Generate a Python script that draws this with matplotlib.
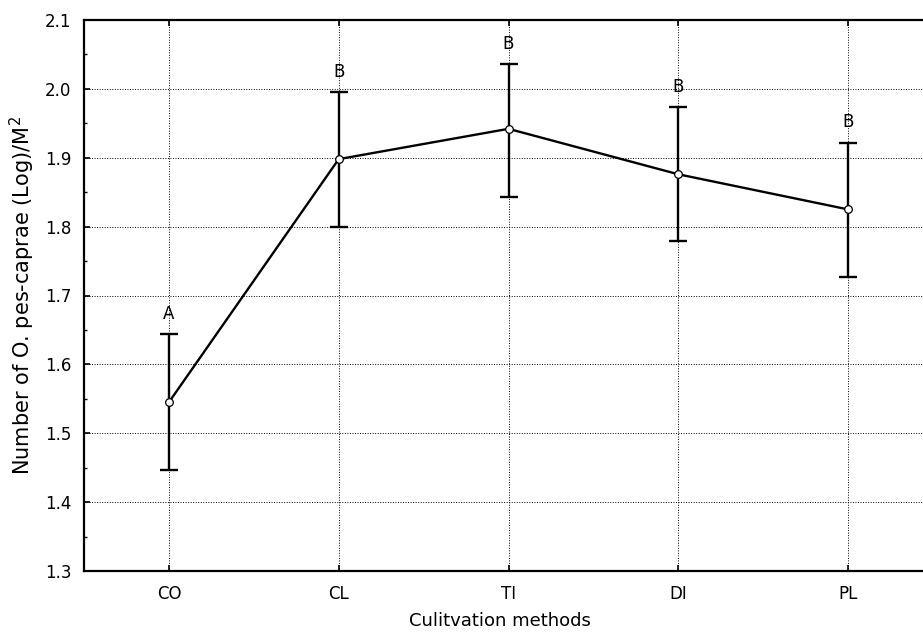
import matplotlib
matplotlib.use("Agg")
import matplotlib.pyplot as plt
from matplotlib.ticker import MultipleLocator, FormatStrFormatter

plt.rcParams["font.family"] = ["DejaVu Sans"]

methods = ["CO", "CL", "TI", "DI", "PL"]
means = [1.545, 1.898, 1.942, 1.876, 1.825]
upper = [1.644, 1.996, 2.036, 1.973, 1.922]
lower = [1.447, 1.800, 1.843, 1.779, 1.727]
letters = ["A", "B", "B", "B", "B"]

x = list(range(len(methods)))
err = [[m - lo for m, lo in zip(means, lower)], [up - m for m, up in zip(means, upper)]]

W, H = 923, 642
fig = plt.figure(figsize=(W / 100, H / 100), dpi=100)
# right spine falls just outside the picture, as in the reference
ax = fig.add_axes([84 / W, 1 - 571 / H, (933 - 84) / W, (571 - 20) / H])

ax.errorbar(x, means, yerr=err, fmt="none", ecolor="black", elinewidth=1.7,
            capsize=6.8, capthick=1.7, zorder=3)
ax.plot(x, means, color="black", lw=1.7, marker="o", ms=5.5, mfc="white",
        mec="black", mew=0.9, zorder=4)

for xi, up, lab in zip(x, upper, letters):
    ax.annotate(lab, (xi, up), xytext=(0, 8), textcoords="offset points",
                ha="center", va="bottom", fontsize=12)

ax.set_xlim(-0.5, 4.5)
ax.set_ylim(1.3, 2.1)
ax.set_xticks(x)
ax.set_xticklabels(methods)
ax.yaxis.set_major_locator(MultipleLocator(0.1))
ax.yaxis.set_minor_locator(MultipleLocator(0.05))
ax.yaxis.set_major_formatter(FormatStrFormatter("%.1f"))
ax.tick_params(axis="both", direction="in", labelsize=12, width=1.2)
ax.tick_params(axis="x", top=True, length=4, pad=10)
ax.tick_params(axis="y", which="major", length=4, pad=9)
ax.tick_params(axis="y", which="minor", direction="in", length=2.5, width=1)
ax.grid(True, which="major", color="black", ls=(0, (1, 1.6)), lw=0.7)

for s in ax.spines.values():
    s.set_linewidth(1.6)

ax.set_xlabel("Culitvation methods", fontsize=13)
ax.xaxis.set_label_coords(0.49, -0.075)
ax.set_ylabel("Number of O. pes-caprae (Log)/M$^2$", fontsize=15, labelpad=6)

fig.savefig("out.png", dpi=100)
